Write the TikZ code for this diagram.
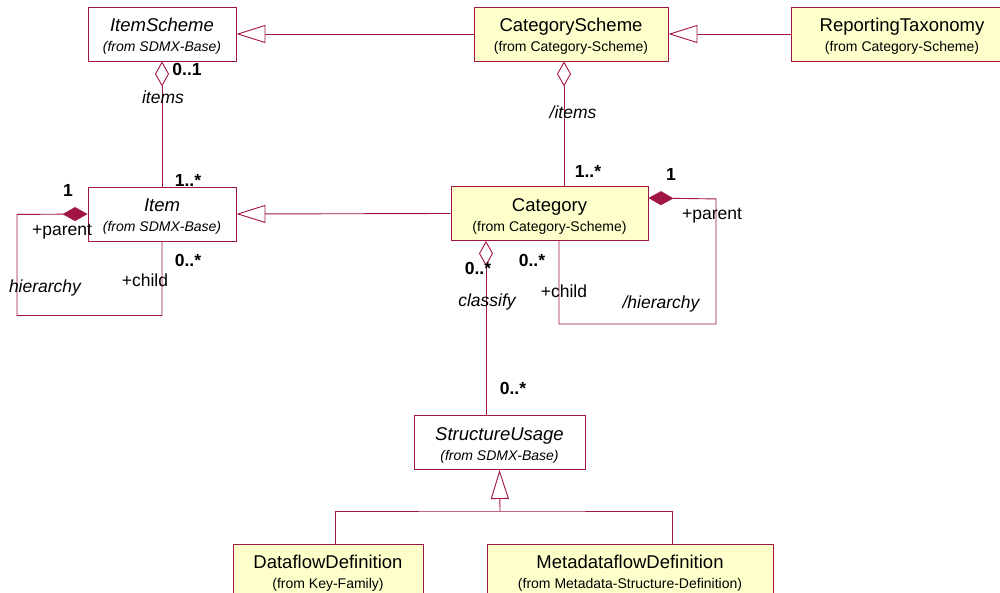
\documentclass[tikz,border=0pt]{standalone}
\usepackage{fontspec}
\setmainfont{Liberation Sans}
\usetikzlibrary{arrows.meta}

\definecolor{umlline}{RGB}{160,20,70}
\definecolor{umlfill}{RGB}{255,255,204}
\newcommand{\frompkg}[1]{{\fontsize{14}{16}\selectfont #1}}
\newcommand{\clsname}[1]{\rule{0pt}{18pt}#1}

\begin{document}
\begin{tikzpicture}[x=1pt,y=-1pt,line width=0.9pt,
  cls/.style={draw=umlline,minimum height=54pt,inner sep=0pt,align=center,
    font=\fontsize{18.5}{21}\selectfont},
  concrete/.style={cls,fill=umlfill},
  gen/.style={draw=umlline,-{Triangle[open,length=29pt,width=18pt]}},
  agg/.style={draw=umlline,-{Diamond[open,length=25pt,width=14pt]}},
  comp/.style={draw=umlline,-{Diamond[length=25pt,width=14pt]}},
  role/.style={font=\fontsize{17.5}{20}\selectfont},
  assoc/.style={font=\fontsize{17.5}{20}\selectfont\itshape},
  mult/.style={font=\fontsize{17.5}{20}\selectfont\bfseries}]
\useasboundingbox (0,0) rectangle (1000,593);
\clip (0,0) rectangle (1000,593);
\fill[white] (0,0) rectangle (1000,593);

% classes
\node[cls,minimum width=148pt] (itemscheme) at (162,34) {\clsname{\textit{ItemScheme}}\\[-1pt]\frompkg{\textit{(from SDMX-Base)}}};
\node[concrete,minimum width=194pt] (catscheme) at (571,34) {\clsname{CategoryScheme}\\[-1pt]\frompkg{(from Category-Scheme)}};
\node[concrete,minimum width=222pt] (reptax) at (902,34) {\clsname{ReportingTaxonomy}\\[-1pt]\frompkg{(from Category-Scheme)}};
\node[cls,minimum width=148pt] (item) at (162,214) {\clsname{\textit{Item}}\\[-1pt]\frompkg{\textit{(from SDMX-Base)}}};
\node[concrete,minimum width=197pt] (category) at (549.5,213.5) {\clsname{Category}\\[-1pt]\frompkg{(from Category-Scheme)}};
\node[cls,minimum width=171pt] (susage) at (499.5,442.5) {\clsname{\textit{StructureUsage}}\\[-1pt]\frompkg{\textit{(from SDMX-Base)}}};
\node[concrete,minimum width=190pt] (dfd) at (328,571) {\clsname{DataflowDefinition}\\[-1pt]\frompkg{(from Key-Family)}};
\node[concrete,minimum width=286pt] (mfd) at (630,571) {\clsname{MetadataflowDefinition}\\[-1pt]\frompkg{(from Metadata-Structure-Definition)}};

% generalisations
\draw[gen] (catscheme.west) -- (itemscheme.east);
\draw[gen] (reptax.west) -- (catscheme.east);
\draw[gen] (category.west) -- (item.east);
\coordinate (fork) at (500,511);
\draw[umlline] ([xshift=7pt]dfd.north) |- (fork) -| ([xshift=42pt]mfd.north);
\draw[gen] (fork) -- (susage.south);

% aggregations
\draw[agg] (item.north) -- (itemscheme.south);
\draw[agg] ([xshift=14.5pt]category.north) -- ([xshift=-7pt]catscheme.south);
\coordinate (clsf) at ([xshift=-13.5pt]susage.north);
\draw[agg] (clsf) -- (clsf |- category.south);

% hierarchies
\draw[comp] (item.south) -- ++(0,74) -| ++(-145,-101) -- (item.west);
\draw[comp] ([xshift=9.5pt]category.south) -- ++(0,83) -| ++(157,-125) -- ([yshift=15.5pt]category.east);

% association ends
\node[mult] (m01) at (187,69) {0..1};
\node[assoc] (aitems) at (163,97) {items};
\node[mult] (m1n) at (188,180) {1..*};
\node[mult] (mip) at (68,190) {1};
\node[role] (rip) at (62,232) {+parent};
\node[mult] (mic) at (188,260) {0..*};
\node[role] (ric) at (145,280) {+child};
\node[assoc] (aih) at (45,288) {hierarchy};

\node[assoc] (acitems) at (573,112) {/items};
\node[mult] (mc1n) at (588,171) {1..*};
\node[mult] (mcp) at (671,174) {1};
\node[role] (rcp) at (712,216) {+parent};
\node[mult] (mcc) at (532,260) {0..*};
\node[role] (rcc) at (564,291) {+child};
\node[assoc] (ach) at (661,304) {/hierarchy};
\node[mult] (mcl) at (478,268) {0..*};
\node[assoc] (acl) at (487,302) {classify};
\node[mult] (msu) at (513,388) {0..*};
\end{tikzpicture}
\end{document}
